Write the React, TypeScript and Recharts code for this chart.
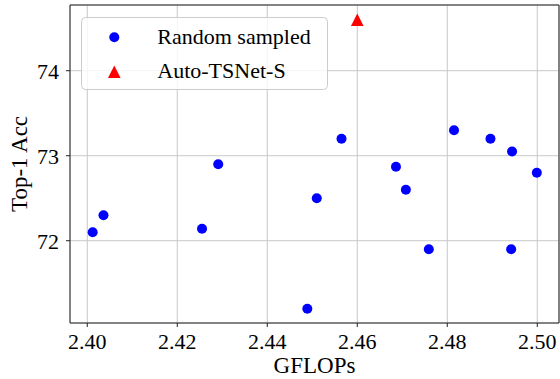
import React from 'react';
import {
  ScatterChart,
  Scatter,
  XAxis,
  YAxis,
  CartesianGrid,
  ReferenceArea
} from 'recharts';

// GFLOPs / Top-1 accuracy
const randomGflops = [
  2.4012, 2.4036, 2.4255, 2.4291, 2.4489, 2.451, 2.4565, 2.4686,
  2.4708, 2.4759, 2.4815, 2.4896, 2.4942, 2.4944, 2.4999
];
const randomAcc = [
  72.1, 72.3, 72.14, 72.9, 71.2, 72.5, 73.2, 72.87,
  72.6, 71.9, 73.3, 73.2, 71.9, 73.05, 72.8
];
const tsnetGflops = [2.46];
const tsnetAcc = [74.6];

const xTicks = [2.4, 2.42, 2.44, 2.46, 2.48, 2.5];
const yTicks = [72, 73, 74];
const xDomain: [number, number] = [2.39616, 2.50483];
const yDomain: [number, number] = [71.032, 74.773];

const randomData = randomGflops.map((x, i) => ({ x, y: randomAcc[i] }));
const tsnetData = tsnetGflops.map((x, i) => ({ x, y: tsnetAcc[i] }));

const FONT = '"Liberation Serif", "Times New Roman", serif';
const tickStyle = { fontFamily: FONT, fontSize: 22, fill: '#000' };

const Dot = (props: any) => (
  <circle cx={props.cx} cy={props.cy} r={5} fill="#0000ff" />
);

const Tri = (props: any) => {
  const { cx, cy } = props;
  const h = 6.3;
  return (
    <polygon
      points={`${cx},${cy - h} ${cx - h},${cy + h} ${cx + h},${cy + h}`}
      fill="#ff0000"
    />
  );
};

// legend drawn as an overlay so it doesn't shrink the plot area
const LegendBox = () => (
  <svg
    width={248}
    height={74}
    style={{ position: 'absolute', left: 81, top: 17, display: 'block' }}
  >
    <rect
      x={0.5}
      y={0.5}
      width={246}
      height={72}
      rx={4}
      fill="rgba(255,255,255,0.8)"
      stroke="#cccccc"
    />
    <circle cx={33.3} cy={20.3} r={5} fill="#0000ff" />
    <polygon points="33.3,48.4 27,61 39.6,61" fill="#ff0000" />
    <text x={76.3} y={26.5} fontFamily={FONT} fontSize={22} fill="#000">
      Random sampled
    </text>
    <text x={76.3} y={61} fontFamily={FONT} fontSize={22} fill="#000">
      Auto-TSNet-S
    </text>
  </svg>
);

export default function App() {
  return (
    <div style={{ position: 'absolute', left: 0, top: 0, width: 560, height: 379, background: '#fff' }}>
      <ScatterChart
        width={560}
        height={379}
        margin={{ top: 5, right: 1, bottom: 0, left: 0 }}
      >
        <CartesianGrid stroke="#c8c8c8" strokeWidth={1} />
        <XAxis
          type="number"
          dataKey="x"
          domain={xDomain}
          ticks={xTicks}
          allowDataOverflow
          height={56}
          tickFormatter={(v: number) => v.toFixed(2)}
          tick={tickStyle}
          tickSize={4}
          tickMargin={6}
          stroke="#222"
          axisLine={false}
          label={(p: any) => {
            const vb = p.viewBox;
            return (
              <text
                x={vb.x + vb.width / 2}
                y={vb.y + 50}
                textAnchor="middle"
                fontFamily={FONT}
                fontSize={23}
                fill="#000"
              >
                GFLOPs
              </text>
            );
          }}
        />
        <YAxis
          type="number"
          dataKey="y"
          domain={yDomain}
          ticks={yTicks}
          allowDataOverflow
          width={70}
          tick={tickStyle}
          tickSize={4}
          tickMargin={7}
          stroke="#222"
          axisLine={false}
          label={(p: any) => {
            const vb = p.viewBox;
            const cy = vb.y + vb.height / 2;
            return (
              <text
                x={27}
                y={cy}
                textAnchor="middle"
                transform={`rotate(-90 27 ${cy})`}
                fontFamily={FONT}
                fontSize={23}
                fill="#000"
              >
                Top-1 Acc
              </text>
            );
          }}
        />
        <ReferenceArea
          x1={xDomain[0]}
          x2={xDomain[1]}
          y1={yDomain[0]}
          y2={yDomain[1]}
          fill="none"
          stroke="#222"
          strokeWidth={1}
          ifOverflow="visible"
        />
        <Scatter name="Random sampled" data={randomData} shape={Dot} isAnimationActive={false} />
        <Scatter name="Auto-TSNet-S" data={tsnetData} shape={Tri} isAnimationActive={false} />
      </ScatterChart>
      <LegendBox />
    </div>
  );
}
